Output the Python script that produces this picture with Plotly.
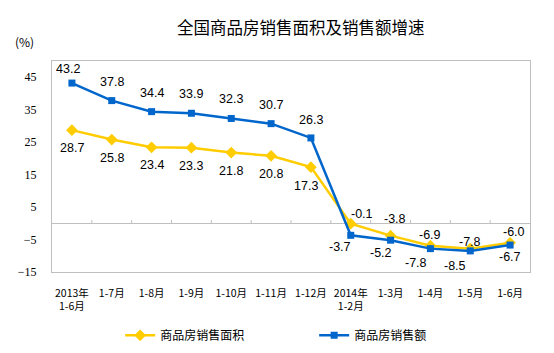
import plotly.graph_objects as go

categories = ["2013年<br>1-6月", "1-7月", "1-8月", "1-9月", "1-10月", "1-11月", "1-12月",
              "2014年<br>1-2月", "1-3月", "1-4月", "1-5月", "1-6月"]
area_growth = [28.7, 25.8, 23.4, 23.3, 21.8, 20.8, 17.3, -0.1, -3.8, -6.9, -7.8, -6.0]
sales_growth = [43.2, 37.8, 34.4, 33.9, 32.3, 30.7, 26.3, -3.7, -5.2, -7.8, -8.5, -6.7]
y_ticks = [-15, -5, 5, 15, 25, 35, 45]

title = "全国商品房销售面积及销售额增速"
name_area = "商品房销售面积"
name_sales = "商品房销售额"

YELLOW = "#FFCC00"
BLUE = "#0066CC"
GRAY = "#BFBFBF"

# label placement (pixel offsets): (xshift, yshift)
sales_label_off = [(-4, 14), (0, 19), (0, 19), (0, 19), (0, 19), (0, 19), (0, 18),
                   (-11, -12), (-10, -13), (-14, -14), (-15, -15), (0, -12)]
area_label_off = [(0, -18), (0, -18), (0, -18), (0, -18), (0, -18), (0, -18), (-5, -19),
                  (11, 10), (4, 17), (0, 11), (0, 7), (4, 11)]

x_idx = list(range(len(categories)))

fig = go.Figure()
fig.add_trace(go.Scatter(
    x=x_idx, y=area_growth, name=name_area, mode="lines+markers",
    line=dict(color=YELLOW, width=2.5),
    marker=dict(symbol="diamond", size=9, color=YELLOW),
))
fig.add_trace(go.Scatter(
    x=x_idx, y=sales_growth, name=name_sales, mode="lines+markers",
    line=dict(color=BLUE, width=2.5),
    marker=dict(symbol="square", size=7, color=BLUE),
))

annotations = []
for i, v in enumerate(sales_growth):
    dx, dy = sales_label_off[i]
    annotations.append(dict(x=i, y=v, xref="x", yref="y", text=f"{v:.1f}", showarrow=False,
                            xshift=dx, yshift=dy,
                            font=dict(family="Liberation Sans, Arial", size=12.5, color="#000000")))
for i, v in enumerate(area_growth):
    dx, dy = area_label_off[i]
    annotations.append(dict(x=i, y=v, xref="x", yref="y", text=f"{v:.1f}", showarrow=False,
                            xshift=dx, yshift=dy,
                            font=dict(family="Liberation Sans, Arial", size=12.5, color="#000000")))
annotations.append(dict(x=-0.082, y=1.142, xref="paper", yref="paper", text="(%)", showarrow=False,
                        font=dict(family="Noto Sans CJK SC", size=12, color="#000000")))

# category tick marks on the zero line
shapes = []
for k in range(1, len(categories)):
    shapes.append(dict(type="line", xref="x", yref="y", x0=k - 0.5, x1=k - 0.5, y0=0, y1=1,
                       line=dict(color=GRAY, width=1)))

fig.update_layout(
    width=554, height=353,
    margin=dict(l=52, r=24, t=61, b=81, autoexpand=False),
    paper_bgcolor="white", plot_bgcolor="white",
    title=dict(text=title, x=0.543, xref="container", xanchor="center",
               y=0.921, yref="container", yanchor="middle",
               font=dict(family="Noto Sans CJK SC", size=16.5, color="#000000")),
    xaxis=dict(range=[-0.5, len(categories) - 0.5], tickvals=x_idx, ticktext=categories,
               showgrid=False, zeroline=False, showline=True, linecolor=GRAY, linewidth=1,
               mirror=True, ticks="", ticklabelstandoff=11, automargin=False,
               tickfont=dict(family="Noto Sans CJK SC", size=10.5, color="#000000")),
    yaxis=dict(range=[-15, 50], tickvals=y_ticks, showgrid=False,
               zeroline=True, zerolinecolor=GRAY, zerolinewidth=1,
               showline=True, linecolor=GRAY, linewidth=1, mirror=True, ticks="",
               ticklabelstandoff=12, automargin=False,
               tickfont=dict(family="Liberation Serif, Times New Roman", size=12, color="#000000")),
    legend=dict(orientation="h", x=0.1426, xanchor="left", y=-0.30, yanchor="middle",
                entrywidth=149, entrywidthmode="pixels",
                font=dict(family="Noto Sans CJK SC", size=12, color="#000000")),
    annotations=annotations,
    shapes=shapes,
    showlegend=True,
)

fig.write_html("out.html")
